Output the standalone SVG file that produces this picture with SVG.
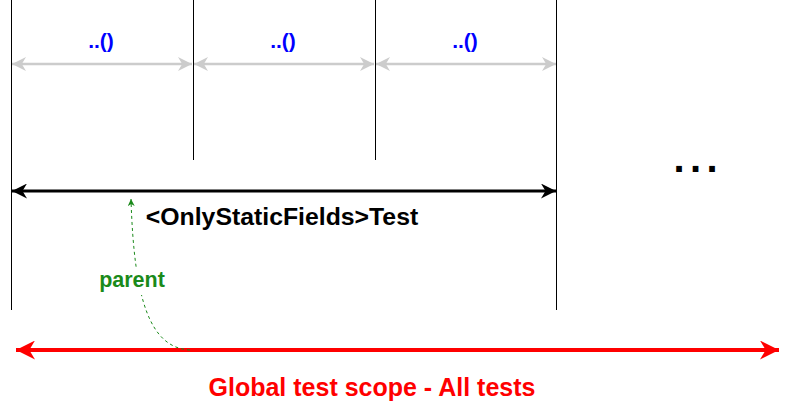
<svg xmlns="http://www.w3.org/2000/svg" width="791" height="406" viewBox="0 0 791 406">
<style>
.v{stroke:#000;stroke-width:1;fill:none}
.g{stroke:#CCCCCC;stroke-width:2.5;fill:none}
.lbl{font-family:"Liberation Sans",Arial,sans-serif;font-weight:bold;text-anchor:middle}
</style>
<defs>
<marker id="ga" viewBox="0 0 10 10" refX="10" refY="5" markerWidth="14" markerHeight="15" markerUnits="userSpaceOnUse" orient="auto-start-reverse"><path d="M0,0 L10,5 L0,10 L3,5 Z" fill="#CCCCCC"/></marker>
<marker id="ba" viewBox="0 0 10 10" refX="10" refY="5" markerWidth="15" markerHeight="15" markerUnits="userSpaceOnUse" orient="auto-start-reverse"><path d="M0,0 L10,5 L0,10 L3,5 Z" fill="#000"/></marker>
<marker id="ra" viewBox="0 0 10 10" refX="10" refY="5" markerWidth="19" markerHeight="19" markerUnits="userSpaceOnUse" orient="auto-start-reverse"><path d="M0,0 L10,5 L0,10 L3,5 Z" fill="#FF0000"/></marker>
<marker id="gr" viewBox="0 0 10 10" refX="10" refY="5" markerWidth="7" markerHeight="7" markerUnits="userSpaceOnUse" orient="auto"><path d="M0,0 L10,5 L0,10 L3,5 Z" fill="#1A8A1A"/></marker>
</defs>
<g id="lines">
<line class="v" x1="11.5" y1="0" x2="11.5" y2="310"/>
<line class="v" x1="193.5" y1="0" x2="193.5" y2="160"/>
<line class="v" x1="375.5" y1="0" x2="375.5" y2="160"/>
<line class="v" x1="556.5" y1="0" x2="556.5" y2="310"/>
</g>
<g id="connectors">
<line class="g" x1="12" y1="64" x2="192" y2="64" marker-start="url(#ga)" marker-end="url(#ga)"/>
<line class="g" x1="194" y1="64" x2="374" y2="64" marker-start="url(#ga)" marker-end="url(#ga)"/>
<line class="g" x1="376" y1="64" x2="556" y2="64" marker-start="url(#ga)" marker-end="url(#ga)"/>
<line x1="12" y1="191" x2="556" y2="191" stroke="#000" stroke-width="3" marker-start="url(#ba)" marker-end="url(#ba)"/>
<line x1="16" y1="350" x2="779" y2="350" stroke="#FF0000" stroke-width="4" marker-start="url(#ra)" marker-end="url(#ra)"/>
<path d="M190,350 C150,348 134,300 131,199" fill="none" stroke="#1A8A1A" stroke-width="1" stroke-dasharray="3,3" marker-end="url(#gr)"/>
</g>
<g id="labels">
<text class="lbl" x="101" y="48" font-size="21" fill="#0000FF">..()</text>
<text class="lbl" x="283" y="48" font-size="21" fill="#0000FF">..()</text>
<text class="lbl" x="465" y="48" font-size="21" fill="#0000FF">..()</text>
<text class="lbl" x="282" y="225" font-size="24.8" fill="#000">&lt;OnlyStaticFields&gt;Test</text>
<rect x="100" y="268" width="66" height="27" fill="#FFFFFF"/>
<text class="lbl" x="132" y="287" font-size="21.5" fill="#1A8A1A">parent</text>
<text class="lbl" x="372" y="396" font-size="25" fill="#FF0000">Global test scope - All tests</text>
<text font-family="Liberation Sans,Arial,sans-serif" font-weight="bold" font-size="40" fill="#000" x="673.5 690 706.5" y="172">...</text>
</g>
</svg>
